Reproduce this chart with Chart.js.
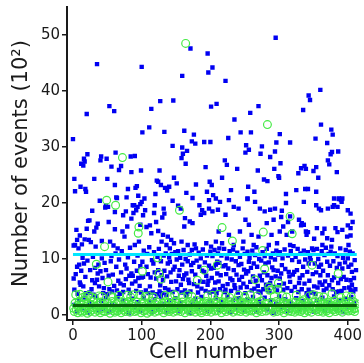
<!DOCTYPE html>
<html>
<head>
<meta charset="utf-8">
<script src="https://cdn.jsdelivr.net/npm/chart.js@4/dist/chart.umd.min.js"></script>
<style>
  html, body { margin: 0; padding: 0; background: #fff; }
  canvas { display: block; }
</style>
</head>
<body>
<canvas id="c" width="364" height="363"></canvas>
<script>
// Axis ticks
const xTicks = [0, 100, 200, 300, 400];
const yTicks = [0, 10, 20, 30, 40, 50];

// Reference levels (x 100 events) and the cell range they span
const blueLevel = 10.8;
const greenLevel = 1.7;
const levelSpan = [0, 413];

// Blue series: [cell, events x100]
const blueEvents = [
  // cells 0-100
  [0,31.4],[2,24.3],[3,22.1],[11,22.9],[12,27.0],[16,27.9],[15,26.7],[17,27.4],[18,22.5],[19,22.0],[20,35.9],[21,28.7],[31,24.3],[35,44.8],[40,27.6],[41,28.3],[49,27.9],[50,24.3],[53,37.3],[56,26.5],[60,36.4],[62,29.0],[61,23.2],[63,21.0],[67,25.9],[70,26.6],[78,21.0],[80,22.5],[84,28.3],[85,25.5],[90,28.4],[91,22.7],[93,23.0],[95,21.3],[99,25.8],[100,44.3],[101,32.6],
  [39,20.4],[64,20.9],[48,19.5],[51,19.3],[47,19.2],[28,18.6],[89,19.6],[92,18.7],[98,19.8],[88,18.2],[22,16.8],[34,15.6],[31,14.9],[5,15.2],[61,15.3],[79,15.8],[72,14.9],[75,14.0],[6,13.4],[3,12.5],[8,11.9],[13,12.6],[17,13.5],[23,13.4],[26,13.0],[33,12.2],[42,13.2],[54,13.1],[59,12.4],[65,11.9],[83,12.0],[90,12.5],[96,13.1],
  [1,12.4],[10,14.2],[20,15.4],[36,16.3],[24,16.9],[52,16.6],[61,18.4],[73,17.8],[77,18.5],[85,17.2],[87,19.6],[94,19.3],
  [9,9.0],[6,8.6],[4,7.3],[16,9.2],[21,9.7],[32,8.4],[36,7.4],[37,9.0],[55,9.6],[63,8.6],[58,7.2],[66,6.1],[70,7.6],[78,8.3],[85,7.4],[87,7.0],[93,7.9],[10,5.8],[11,5.4],[15,5.1],[24,4.0],[27,4.6],[32,5.7],[38,5.1],[45,4.8],[53,4.6],[60,5.2],[74,5.3],[81,4.5],[91,6.0],[97,5.2],[99,4.0],
  [1,6.5],[2,4.5],[7,3.8],[12,7.9],[14,10.2],[18,6.8],[19,3.9],[25,8.0],[28,6.2],[29,10.4],[30,3.6],[35,6.3],[40,7.8],[42,10.1],[43,6.6],[44,3.9],[46,9.3],[48,8.0],[50,3.7],[52,7.0],[56,10.5],[57,4.2],[62,11.0],[64,4.4],[67,9.9],[68,3.8],[69,5.6],[71,11.4],[73,4.1],[76,9.0],[77,6.4],[80,10.3],[82,7.0],[83,3.9],[86,5.6],[89,9.5],[92,4.3],[94,10.6],[95,6.6],[98,8.7],[100,6.7],
  // cells 100-200
  [111,33.5],[114,36.8],[127,38.2],[146,38.3],[133,32.7],[162,32.9],[176,32.2],[173,31.0],[178,30.6],[191,30.9],[200,30.9],[145,30.2],[159,29.9],[166,29.3],[160,28.8],[158,28.0],[164,27.0],[126,25.8],[193,26.4],[147,24.5],[122,24.0],[124,23.8],[128,23.2],[134,22.7],[140,22.9],[137,22.2],[151,23.5],[179,23.3],[199,23.8],[202,23.2],[195,22.0],[204,21.4],[120,21.6],[165,21.8],[174,20.9],[104,20.8],[171,47.6],[196,46.7],[203,44.2],[159,42.7],[197,43.3],[201,37.2],[209,37.7],
  [100,20.2],[105,18.7],[119,19.6],[118,18.2],[130,17.4],[133,18.1],[132,19.0],[145,20.4],[153,19.5],[157,19.0],[163,17.3],[170,16.7],[174,16.4],[162,15.8],[184,19.6],[188,18.7],[186,17.9],[191,18.2],[198,19.0],[203,18.5],[198,20.5],[208,20.8],[98,16.1],[107,15.7],[114,14.6],[124,15.0],[131,14.3],[138,14.0],[143,13.4],[147,12.8],[129,13.1],[136,12.5],[141,11.9],[158,13.1],[167,12.5],[173,11.6],[179,11.9],[194,12.8],[201,12.2],[208,13.1],[213,11.9],[102,17.8],[112,16.0],[121,16.6],
  [101,9.5],[107,8.6],[117,9.2],[124,8.0],[129,7.1],[121,6.5],[131,6.2],[141,9.5],[148,8.6],[155,8.0],[162,7.1],[172,8.9],[184,8.6],[191,7.7],[201,8.3],[210,7.4],[143,5.9],[157,5.4],[169,5.7],[181,5.1],[196,5.4],[206,4.5],[112,5.1],[126,4.2],[136,3.6],
  [102,6.8],[103,11.5],[106,4.4],[108,10.9],[109,7.3],[110,3.9],[111,12.1],[113,6.7],[115,9.8],[116,4.0],[118,11.2],[119,7.6],[122,3.7],[123,10.4],[125,11.8],[127,5.3],[128,9.6],[130,3.9],[132,10.6],[133,7.9],[134,4.8],[135,11.0],[137,6.9],[138,9.2],[139,4.5],[140,10.3],[142,7.6],[144,10.9],[145,4.1],[146,8.1],[149,11.2],[150,6.0],[151,9.9],[152,4.6],[153,11.4],[154,7.0],[156,10.2],[158,4.0],[159,9.0],[160,6.4],[161,11.6],[163,4.4],[164,10.0],[165,7.4],[166,3.8],[167,9.6],[168,6.3],[170,10.8],[171,4.2],[173,7.8],[175,9.3],[176,5.5],[177,12.6],[178,7.2],[180,9.7],[182,4.0],[183,11.1],[185,6.0],[186,10.1],[187,4.7],[188,7.9],[189,11.7],[190,5.9],[192,9.4],[193,4.3],[194,7.0],[195,10.6],[197,6.1],[198,8.8],[199,4.0],[200,11.3],
  // cells 200-300
  [295,49.5],[222,41.8],[270,37.3],[258,36.1],[235,34.9],[244,32.6],[259,32.6],[301,32.3],[226,31.6],[296,30.8],[316,30.8],[252,30.3],[256,29.5],[251,29.0],[275,30.1],[273,28.8],[287,28.2],[294,29.2],[221,27.6],[224,26.8],[239,26.1],[269,25.8],[293,26.1],[302,27.1],[217,24.5],[278,24.2],[283,23.9],[299,24.8],[300,24.5],[254,20.8],[310,21.6],[230,22.3],[255,22.9],[264,22.0],
  [214,20.2],[227,20.5],[234,19.3],[241,19.0],[254,20.7],[265,20.2],[272,19.0],[279,18.5],[287,18.8],[294,19.0],[304,18.6],[310,20.0],[316,17.6],[211,18.8],[222,17.9],[251,17.0],[256,16.1],[282,16.4],[292,17.0],[306,15.8],[212,14.9],[227,14.3],[243,14.9],[260,14.3],[270,14.0],[289,14.3],[301,14.9],[311,14.3],[217,12.8],[234,12.5],[248,13.1],[263,12.5],[285,12.5],[297,12.8],[316,12.5],
  [210,9.5],[222,8.9],[234,8.0],[241,8.9],[256,9.5],[268,8.6],[280,9.2],[292,8.0],[304,8.9],[314,7.7],[215,7.1],[229,6.5],[246,6.8],[258,5.9],[275,6.2],[287,5.7],[301,6.5],[316,5.9],[222,4.5],[236,4.8],[251,3.9],[270,4.2],[284,4.5],[306,4.5],
  [202,6.6],[203,10.5],[204,4.2],[205,8.4],[206,11.6],[207,5.8],[208,9.0],[209,3.9],[211,11.0],[212,6.0],[213,9.3],[214,4.6],[216,10.6],[218,5.2],[219,8.7],[220,11.8],[221,4.1],[223,7.3],[224,10.1],[225,5.5],[226,8.3],[228,11.4],[230,4.3],[231,9.9],[232,6.2],[233,11.7],[235,5.3],[237,9.6],[238,7.2],[239,11.1],[240,4.0],[242,6.3],[243,10.4],[244,4.9],[245,9.1],[247,11.9],[248,5.6],[249,8.1],[250,10.9],[252,7.4],[253,5.0],[254,11.3],[255,7.8],[257,10.2],[259,8.4],[260,4.4],[261,11.5],[262,6.9],[263,9.2],[264,4.7],[265,10.7],[266,6.1],[267,12.1],[269,5.2],[271,10.0],[272,7.0],[273,4.0],[274,9.7],[276,11.2],[277,4.6],[278,7.6],[279,10.5],[281,5.4],[282,11.8],[283,7.1],[285,9.4],[286,4.2],[288,10.3],[289,6.6],[290,8.5],[291,11.0],[293,5.0],[294,9.9],[295,6.9],[296,11.5],[297,4.4],[298,7.9],[299,10.8],[300,5.3],
  // cells 300-412
  [360,40.2],[343,39.2],[345,38.4],[335,36.6],[361,34.0],[376,33.1],[378,32.2],[353,31.5],[370,30.7],[377,29.1],[375,28.7],[386,29.2],[371,27.6],[373,26.9],[337,26.6],[332,26.2],[339,26.1],[328,25.3],[354,26.4],[350,25.7],[384,25.5],[357,24.5],[338,22.5],[342,22.5],[387,20.8],[380,20.8],[390,20.5],[325,22.3],[354,22.0],
  [336,20.2],[358,19.0],[380,19.6],[387,20.7],[391,20.2],[329,17.0],[336,16.1],[333,16.4],[319,14.9],[339,14.9],[340,14.3],[355,15.5],[363,14.6],[370,13.7],[382,15.5],[392,15.2],[404,15.5],[399,14.0],[401,12.5],[377,13.4],[348,11.9],[363,12.5],[375,11.3],
  [354,19.6],[361,18.7],[371,19.0],[378,19.3],[385,19.3],[392,20.8],[400,18.7],[404,18.1],[407,16.6],[303,17.5],[313,16.6],[332,16.0],[342,14.8],[351,13.6],[366,15.4],[385,14.8],[400,16.0],[404,14.2],
  [319,9.8],[329,9.5],[343,9.2],[346,9.8],[358,8.6],[370,9.5],[392,8.3],[401,8.6],[406,7.7],[322,7.7],[334,7.1],[360,7.1],[377,6.2],[394,6.8],[404,6.2],[406,5.4],[329,5.7],[343,4.5],[363,5.4],[387,4.2],[404,4.5],[408,4.2],
  [301,11.2],[303,7.4],[305,10.1],[307,5.6],[308,11.7],[309,8.2],[312,4.8],[313,10.6],[315,6.9],[317,11.4],[318,4.3],[320,7.2],[321,12.3],[323,5.0],[324,10.4],[326,8.0],[327,11.8],[328,4.1],[330,6.6],[331,11.0],[333,4.6],[335,8.6],[336,11.5],[337,5.6],[338,9.9],[340,3.9],[341,7.7],[342,11.2],[344,6.1],[345,10.3],[347,4.0],[349,7.3],[350,11.6],[351,5.1],[352,9.2],[353,3.8],[354,7.6],[355,11.8],[356,4.9],[357,10.0],[359,5.8],[361,9.0],[362,11.4],[364,7.9],[365,4.4],[366,10.7],[367,6.0],[368,12.0],[369,4.7],[371,7.1],[372,10.9],[373,5.3],[374,8.8],[376,12.2],[378,4.6],[379,9.6],[380,6.7],[381,11.0],[383,4.1],[384,8.4],[385,10.5],[386,5.7],[388,9.1],[389,11.9],[390,6.4],[391,4.3],[393,10.2],[395,4.8],[396,9.4],[397,11.6],[398,6.3],[400,10.1],[402,4.9],[403,11.3],[405,9.0],[407,11.0],[409,6.6],[410,9.8],[411,4.6],[412,8.0],
  // low counts, all cells
  [2,1.8],[6,0.6],[9,2.7],[13,1.2],[17,3.1],[21,0.4],[24,2.2],[28,1.5],[33,3.3],[37,0.8],[41,2.5],[44,1.1],[48,3.0],[53,0.5],[57,2.0],[61,1.4],[65,3.2],[69,0.9],[73,2.6],[77,1.7],[81,0.3],[86,2.9],[90,1.3],[94,2.3],[98,0.7],[103,3.1],[107,1.6],[111,2.4],[115,0.5],[119,2.8],[124,1.0],[128,3.3],[132,1.9],[136,0.6],[140,2.6],[145,1.3],[149,3.0],[153,0.8],[157,2.2],[161,1.5],[165,3.4],[170,0.4],[174,2.0],[178,2.9],[182,1.1],[187,3.2],[191,1.7],[195,0.7],[199,2.5],[204,1.4],[208,3.1],[212,0.9],[216,2.3],[220,1.6],[225,3.3],[229,0.5],[233,2.7],[237,1.2],[241,3.0],[246,2.1],[250,0.8],[254,2.8],[258,1.5],[262,3.2],[267,0.6],[271,2.4],[275,1.8],[279,3.1],[283,1.0],[288,2.6],[292,0.4],[296,2.0],[300,3.3],[304,1.3],[309,2.8],[313,0.7],[317,2.2],[321,1.6],[325,3.0],[330,0.9],[334,2.5],[338,1.2],[342,3.2],[346,1.9],[351,0.6],[355,2.7],[359,1.4],[363,3.1],[367,0.8],[372,2.3],[376,1.7],[380,3.3],[384,1.0],[388,2.6],[393,0.5],[397,2.9],[401,1.5],[405,3.2],[409,2.1]
];

// Green series: events x100 for cells 1..413
const greenEvents = [
  1.2,0.6,2.1,3.6,0.9,1.7,0.4,1.4,2.3,3.7,0.8,1.9,0.5,3.1,1.3,2.5,0.7,3.3,1.0,1.6,
  0.3,2.0,3.5,1.1,0.6,1.8,3.2,0.9,2.4,1.3,3.0,0.5,1.5,9.05,2.2,0.8,1.7,3.4,1.0,0.4,
  2.3,3.3,1.2,0.7,1.9,12.2,0.6,1.4,20.5,2.1,5.9,0.9,1.6,0.3,3.4,1.1,2.4,3.1,0.8,1.5,
  0.5,19.6,2.0,1.2,0.7,2.6,3.5,1.0,1.8,0.4,1.3,28.1,0.9,2.2,1.5,0.6,1.9,1.1,3.5,0.8,
  2.4,1.4,0.5,3.2,1.7,0.9,2.1,3.6,1.2,0.6,1.6,2.3,0.8,1.1,14.6,15.7,3.6,1.0,0.4,2.0,
  7.8,1.5,0.7,2.2,3.3,0.9,1.8,0.3,1.4,3.4,2.0,0.6,1.2,2.5,0.8,1.7,3.2,1.0,0.5,1.9,
  1.3,2.3,10.2,0.7,7.4,1.3,1.6,6.4,0.9,2.1,1.2,0.4,1.8,3.5,2.4,0.8,1.5,1.0,2.2,0.6,
  3.3,1.4,0.9,2.0,1.1,0.5,1.7,3.6,1.2,2.5,0.7,1.6,2.1,0.9,18.7,1.3,0.6,1.9,2.3,3.2,
  1.0,1.5,0.4,48.5,2.0,1.2,3.6,0.8,1.7,2.4,0.6,1.1,3.3,1.9,0.9,2.2,1.4,0.5,1.8,2.6,
  6.2,1.0,1.6,0.7,2.3,1.3,0.4,1.9,2.1,0.8,8.0,1.5,1.1,2.4,0.6,3.4,1.7,0.9,2.0,1.2,
  0.5,1.8,3.5,1.0,2.2,1.4,0.7,1.9,2.5,8.9,0.8,3.7,1.6,1.1,2.1,0.4,15.6,1.3,2.3,0.9,
  1.7,3.4,0.6,1.5,2.0,1.0,2.4,3.1,0.8,1.8,1.2,13.2,0.5,2.2,1.4,0.9,1.9,2.6,0.7,1.3,
  3.5,1.1,2.0,0.6,1.6,2.3,0.9,1.4,2.1,3.3,1.0,0.5,1.8,2.4,1.2,0.8,1.9,3.6,1.5,0.7,
  2.2,1.3,0.9,2.0,6.3,1.6,0.4,3.4,1.1,2.3,0.8,1.7,1.2,2.5,0.6,11.5,14.8,1.4,8.2,1.9,
  0.7,2.1,34.0,1.0,5.0,4.4,1.5,0.9,4.5,2.2,1.2,0.5,3.3,1.8,1.0,2.4,0.6,4.6,5.7,1.4,
  2.0,0.8,1.6,1.1,3.4,2.3,0.4,1.3,1.9,0.9,3.2,1.5,2.1,0.7,1.2,17.6,1.8,0.6,14.5,2.2,
  1.0,1.4,0.5,2.3,3.5,1.1,0.8,1.9,1.3,2.0,0.6,1.7,2.4,0.9,1.2,2.7,0.4,1.6,2.1,1.0,
  1.5,0.7,2.2,3.4,1.1,1.8,0.5,8.9,1.3,3.6,1.2,2.3,0.9,1.6,1.0,2.0,0.6,3.3,1.4,2.4,
  0.8,1.2,1.9,0.5,3.2,1.5,2.1,1.0,0.7,1.7,2.3,1.1,0.4,1.9,1.3,2.2,3.8,0.9,1.6,1.0,
  2.5,0.6,1.4,2.0,1.1,7.4,0.8,1.7,2.3,3.1,1.2,0.5,1.8,2.1,0.9,1.4,2.6,3.4,1.0,1.6,
  0.7,2.2,1.3,1.9,3.3,0.8,1.5,2.4,1.1,0.6,1.8,1.2,2.0
];

const INK = '#1a1a1a';
const FONT = "'DejaVu Sans', sans-serif";

const bluePoints = blueEvents.map(([cell, v]) => ({ x: cell, y: v }));
const greenPoints = greenEvents.map((v, i) => ({ x: i + 1, y: v }));
const levelLine = (v) => levelSpan.map((c) => ({ x: c, y: v }));

new Chart(document.getElementById('c'), {
  type: 'scatter',
  data: {
    datasets: [
      {
        data: bluePoints,
        pointStyle: 'rect',
        pointRadius: 3.1,
        backgroundColor: '#0000f2',
        borderWidth: 0,
        order: 4
      },
      {
        data: greenPoints,
        pointStyle: 'circle',
        pointRadius: 3.9,
        borderColor: '#45ea45',
        backgroundColor: 'rgba(0,0,0,0)',
        borderWidth: 1.2,
        order: 3
      },
      {
        type: 'line',
        data: levelLine(blueLevel),
        showLine: true,
        borderColor: '#00e6ff',
        borderWidth: 3,
        pointRadius: 0,
        order: 2
      },
      {
        type: 'line',
        data: levelLine(greenLevel),
        showLine: true,
        borderColor: '#0a640a',
        borderWidth: 3,
        pointRadius: 0,
        order: 1
      }
    ]
  },
  options: {
    responsive: false,
    animation: false,
    devicePixelRatio: 1,
    layout: { padding: { top: 7, right: 4, left: 0, bottom: 0 } },
    plugins: { legend: { display: false }, tooltip: { enabled: false } },
    scales: {
      x: {
        type: 'linear',
        min: -8.7,
        max: 416,
        afterBuildTicks: (s) => { s.ticks = xTicks.map((v) => ({ value: v })); },
        afterFit: (s) => { s.height = 43; s.paddingLeft = 0; s.paddingRight = 0; },
        ticks: { font: { family: FONT, size: 15 }, color: INK, padding: 2, maxRotation: 0, autoSkip: false },
        grid: { display: true, drawOnChartArea: false, drawTicks: true, tickLength: 5, color: INK, lineWidth: 1.5 },
        border: { display: true, color: INK, width: 2 },
        title: { display: true, text: 'Cell number', font: { family: FONT, size: 21, lineHeight: 1.0 }, color: INK, padding: { top: 0, bottom: 0 } }
      },
      y: {
        type: 'linear',
        min: -0.9,
        max: 55,
        afterBuildTicks: (s) => { s.ticks = yTicks.map((v) => ({ value: v })); },
        afterFit: (s) => { s.width = 67; s.paddingTop = 0; s.paddingBottom = 0; },
        ticks: { font: { family: FONT, size: 15 }, color: INK, padding: 2, autoSkip: false },
        grid: { display: true, drawOnChartArea: false, drawTicks: true, tickLength: 5, color: INK, lineWidth: 1.5 },
        border: { display: true, color: INK, width: 2 },
        title: { display: true, text: 'Number of events (10²)', font: { family: FONT, size: 21 }, color: INK, padding: { top: 9, bottom: 0 } }
      }
    }
  }
});
</script>
</body>
</html>
